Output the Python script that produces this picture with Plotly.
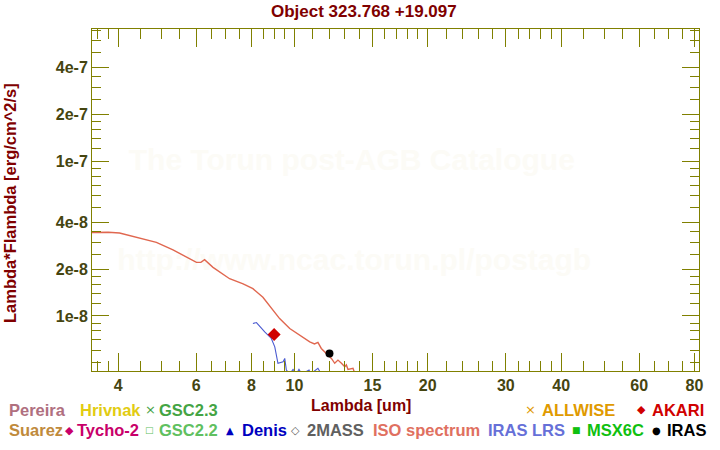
import plotly.graph_objects as go

# ---------------- data ----------------
iso_wave = [3.49, 3.80, 4.03, 4.20, 4.48, 4.88, 5.32, 5.80, 6.01, 6.15, 6.27, 6.55, 7.14,
            7.66, 8.06, 8.49, 8.87, 9.26, 9.76, 10.28, 10.83, 11.10, 11.30, 11.50, 11.70,
            12.12, 12.33, 12.54, 12.77, 12.99, 13.10, 13.21, 13.56, 13.65]
iso_flux = [3.46e-8, 3.47e-8, 3.43e-8, 3.33e-8, 3.19e-8, 2.99e-8, 2.67e-8, 2.34e-8, 2.22e-8,
            2.22e-8, 2.31e-8, 2.06e-8, 1.74e-8, 1.61e-8, 1.50e-8, 1.32e-8, 1.12e-8, 9.62e-9,
            8.30e-9, 7.52e-9, 6.81e-9, 6.60e-9, 6.75e-9, 6.17e-9, 5.87e-9, 5.32e-9, 4.95e-9,
            5.19e-9, 4.95e-9, 4.70e-9, 4.83e-9, 4.52e-9, 4.60e-9, 4.35e-9]

lrs_wave = [8.06, 8.21, 8.57, 8.87, 9.03, 9.18, 9.43, 9.51, 9.59, 9.76, 9.93, 10.10, 10.24,
            10.39, 10.79, 10.88, 11.30, 11.50]
lrs_flux = [8.94e-9, 9.07e-9, 7.89e-9, 7.16e-9, 6.32e-9, 4.95e-9, 5.07e-9, 5.32e-9, 4.48e-9,
            4.22e-9, 4.52e-9, 4.22e-9, 4.52e-9, 4.22e-9, 4.48e-9, 4.22e-9, 4.60e-9, 4.22e-9]

akari_wave = [9.0]
akari_flux = [7.6e-9]
iras_wave = [12.0]
iras_flux = [5.73e-9]

x_tickvals = [4, 6, 8, 10, 15, 20, 30, 40, 60, 80]
x_ticktext = ["4", "6", "8", "10", "15", "20", "30", "40", "60", "80"]
x_minor = [3.6, 3.8, 4.5, 5, 5.5, 6.5, 7, 7.5, 8.5, 9, 9.5, 11, 12, 13, 14, 16, 17, 18, 19,
           22, 24, 26, 28, 32, 34, 36, 38, 45, 50, 55, 65, 70, 75]
y_tickvals = [1e-8, 2e-8, 4e-8, 1e-7, 2e-7, 4e-7]
y_ticktext = ["1e-8", "2e-8", "4e-8", "1e-7", "2e-7", "4e-7"]
y_minor = [5e-9, 6e-9, 7e-9, 8e-9, 9e-9, 1.2e-8, 1.4e-8, 1.6e-8, 1.8e-8, 2.5e-8, 3e-8, 3.5e-8,
           5e-8, 6e-8, 7e-8, 8e-8, 9e-8, 1.2e-7, 1.4e-7, 1.6e-7, 1.8e-7, 2.5e-7, 3e-7, 3.5e-7,
           5e-7, 6e-7, 7e-7]

title_text = "Object 323.768 +19.097"
x_title = "Lambda [um]"
y_title = "Lambda*Flambda [erg/cm^2/s]"
watermark = ["The Torun post-AGB Catalogue", "http://www.ncac.torun.pl/postagb"]

# legend entries: (symbol, label, colour)
legend_row1 = [("", "Pereira", "#b0707f"), ("", "Hrivnak", "#e2cc12"), ("×", "GSC2.3", "#44a444"),
               ("×", "ALLWISE", "#e09a00"), ("◆", "AKARI", "#d00000")]
legend_row2 = [("", "Suarez", "#c08a3c"), ("◆", "Tycho-2", "#c8006a"), ("□", "GSC2.2", "#60c060"),
               ("▲", "Denis", "#0000c0"), ("◇", "2MASS", "#606060"), ("", "ISO spectrum", "#e07060"),
               ("", "IRAS LRS", "#6670d8"), ("■", "MSX6C", "#10c010"), ("●", "IRAS", "#000000")]

# ---------------- layout geometry ----------------
W, H = 720, 450
ML, MR, MT, MB = 92, 21, 29, 79
PW, PH = W - ML - MR, H - MT - MB
XR = [0.5431, 1.9133]
YR = [-8.3552, -6.1474]

def px2paper_x(px):
    return (px - ML) / PW

def py2paper_y(py):
    return (H - MB - py) / PH

FONT = "Liberation Sans, Arial, Helvetica, sans-serif"
OLIVE = "#808000"
TICKCOL = "#454510"
DARKRED = "#800000"

fig = go.Figure()

# watermark (drawn first, beneath data) – placed by fractions of the axis range
wm_frac = [(0.428, 0.610), (0.432, 0.316)]
for txt, (fx, fy) in zip(watermark, wm_frac):
    fig.add_trace(go.Scatter(
        x=[10 ** (XR[0] + fx * (XR[1] - XR[0]))],
        y=[10 ** (YR[0] + fy * (YR[1] - YR[0]))],
        mode="text", text=[txt], textposition="middle center",
        textfont=dict(family=FONT, size=30, color="#fcfbf6", weight="bold"),
        hoverinfo="skip", showlegend=False))

fig.add_trace(go.Scatter(x=iso_wave, y=iso_flux, mode="lines",
                         line=dict(color="#e0674f", width=1.4),
                         showlegend=False))
fig.add_trace(go.Scatter(x=lrs_wave, y=lrs_flux, mode="lines",
                         line=dict(color="#4a5ad0", width=1.1),
                         showlegend=False))
fig.add_trace(go.Scatter(x=akari_wave, y=akari_flux, mode="markers",
                         marker=dict(symbol="diamond", size=10, color="#d00000"),
                         showlegend=False))
fig.add_trace(go.Scatter(x=iras_wave, y=iras_flux, mode="markers",
                         marker=dict(symbol="circle", size=8, color="#000000"),
                         showlegend=False))

axis_common = dict(showline=True, linecolor=OLIVE, linewidth=1, mirror="ticks",
                   ticks="inside", tickcolor=OLIVE, tickwidth=1, showgrid=False,
                   zeroline=False,
                   tickfont=dict(family=FONT, size=16, color=TICKCOL, weight="bold"))

fig.update_xaxes(type="log", range=XR, tickmode="array", tickvals=x_tickvals,
                 ticktext=x_ticktext, ticklen=18,
                 minor=dict(tickmode="array", tickvals=x_minor, ticks="inside",
                            ticklen=10, tickcolor=OLIVE, tickwidth=1, showgrid=False),
                 **axis_common)
fig.update_yaxes(type="log", range=YR, tickmode="array", tickvals=y_tickvals,
                 ticktext=y_ticktext, ticklen=17,
                 minor=dict(tickmode="array", tickvals=y_minor, ticks="inside",
                            ticklen=9, tickcolor=OLIVE, tickwidth=1, showgrid=False),
                 **axis_common)

annotations = []
annotations.append(dict(text=title_text, xref="paper", yref="paper",
                        x=px2paper_x(363.5), y=py2paper_y(12), xanchor="center", yanchor="middle",
                        showarrow=False,
                        font=dict(family=FONT, size=17, color=DARKRED, weight="bold")))
annotations.append(dict(text=x_title, xref="paper", yref="paper",
                        x=px2paper_x(361), y=py2paper_y(405), xanchor="center", yanchor="middle",
                        showarrow=False,
                        font=dict(family=FONT, size=16, color=DARKRED, weight="bold")))
annotations.append(dict(text=y_title, xref="paper", yref="paper", textangle=-90,
                        x=px2paper_x(10), y=py2paper_y(203), xanchor="center", yanchor="middle",
                        showarrow=False,
                        font=dict(family=FONT, size=16.5, color=DARKRED, weight="bold")))

# legend layout: (symbol centre px, text left px) per entry
row1_pos = [(None, 7), (None, 78), (150, 157), (530, 540), (641, 650)]
row2_pos = [(None, 7), (69.5, 75), (149.5, 157), (229.5, 240), (295, 305), (None, 371),
            (None, 486), (576, 585), (656, 665)]
row_y = [410, 430]
sym_size = {"×": 13, "◆": 11, "□": 9, "▲": 10, "◇": 11, "■": 9, "●": 10}

for entries, positions, ry in ((legend_row1, row1_pos, row_y[0]), (legend_row2, row2_pos, row_y[1])):
    for (sym, label, col), (sx, tx) in zip(entries, positions):
        if sym:
            annotations.append(dict(text=sym, xref="paper", yref="paper",
                                    x=px2paper_x(sx), y=py2paper_y(ry), xanchor="center",
                                    yanchor="middle", showarrow=False,
                                    font=dict(family="DejaVu Sans", size=sym_size[sym], color=col)))
        annotations.append(dict(text=label, xref="paper", yref="paper",
                                x=px2paper_x(tx), y=py2paper_y(ry), xanchor="left",
                                yanchor="middle", showarrow=False,
                                font=dict(family=FONT, size=16.5, color=col, weight="bold")))

fig.update_layout(width=W, height=H, margin=dict(l=ML, r=MR, t=MT, b=MB),
                  paper_bgcolor="white", plot_bgcolor="white",
                  showlegend=False, annotations=annotations)

fig.write_html("out.html")
